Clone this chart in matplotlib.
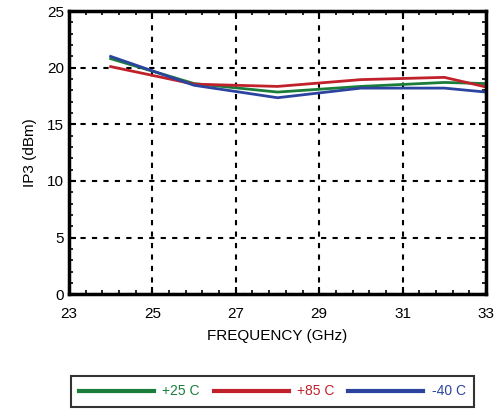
import numpy as np
import matplotlib.pyplot as plt

plt.rcParams['font.family'] = ['Liberation Sans', 'DejaVu Sans']

freq = [24, 26, 28, 30, 32, 33]
ip3_25c = [20.8, 18.6, 17.85, 18.35, 18.7, 18.6]
ip3_85c = [20.1, 18.55, 18.35, 18.95, 19.15, 18.3]
ip3_m40c = [21.0, 18.45, 17.35, 18.2, 18.2, 17.85]

labels = ["+25 C", "+85 C", "-40 C"]
colors = ["#1b7d3a", "#c0212b", "#2a44a0"]

fig = plt.figure(figsize=(4.96, 4.12), dpi=100)
ax = fig.add_axes([0.139, 0.286, 0.841, 0.687])

for data, lab, c in zip([ip3_25c, ip3_85c, ip3_m40c], labels, colors):
    ax.plot(freq, data, color=c, lw=2, label=lab)

ax.set_xlim(23, 33)
ax.set_ylim(0, 25)
ax.set_xticks(np.arange(23, 34, 2))
ax.set_xticks(np.arange(23, 33.01, 0.4), minor=True)
ax.set_yticks(np.arange(0, 26, 5))
ax.set_yticks(np.arange(0, 26, 1), minor=True)
ax.tick_params(which='both', direction='in', top=True, right=True, labelsize=11)
ax.tick_params(which='major', length=5, width=1.5)
ax.tick_params(which='minor', length=3, width=1.2)
ax.tick_params(axis='x', pad=9)
ax.grid(True, which='major', color='black', ls=(0, (2.5, 3)), lw=1.5)
for s in ax.spines.values():
    s.set_linewidth(2.5)

ax.set_xlabel("FREQUENCY (GHz)", fontsize=11, labelpad=6)
ax.set_ylabel("IP3 (dBm)", fontsize=11, labelpad=7)

leg = fig.legend(loc='center', bbox_to_anchor=(0.549, 0.05), ncol=3,
                 handlelength=5.4, columnspacing=1.0, handletextpad=0.6,
                 fontsize=10, fancybox=False, edgecolor='black',
                 borderpad=0.6, borderaxespad=0)
leg.get_frame().set_linewidth(1.5)
for txt, c in zip(leg.get_texts(), colors):
    txt.set_color(c)
for ln in leg.get_lines():
    ln.set_linewidth(3)

fig.savefig("out.png", dpi=100)
